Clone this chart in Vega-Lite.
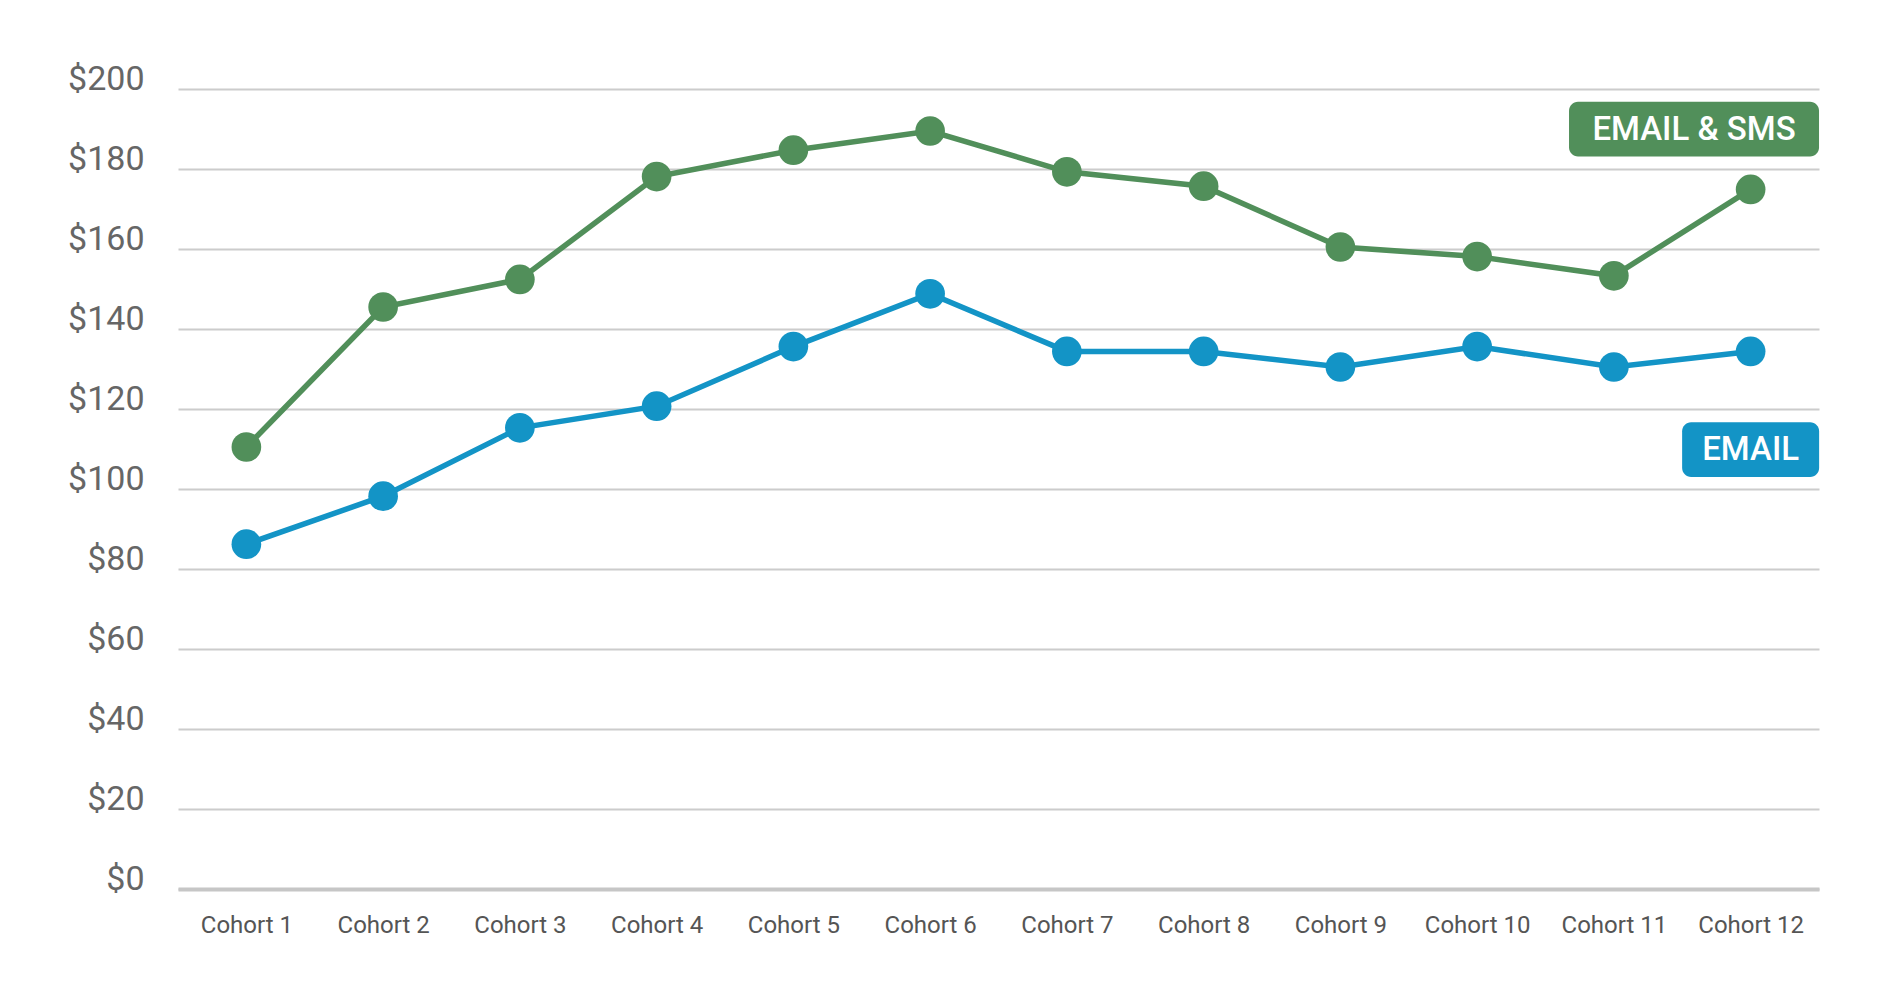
{
  "$schema": "https://vega.github.io/schema/vega-lite/v6.json",
  "autosize": {"type": "none"},
  "width": 1641,
  "height": 800,
  "padding": {"left": 178, "top": 89, "right": 59, "bottom": 108},
  "background": "white",
  "config": {
    "view": {"stroke": null},
    "font": "Roboto"
  },
  "datasets": {
    "ltv": [
      {"cohort": "Cohort 1", "series": "EMAIL & SMS", "value": 110.5},
      {"cohort": "Cohort 2", "series": "EMAIL & SMS", "value": 145.5},
      {"cohort": "Cohort 3", "series": "EMAIL & SMS", "value": 152.4},
      {"cohort": "Cohort 4", "series": "EMAIL & SMS", "value": 178.1},
      {"cohort": "Cohort 5", "series": "EMAIL & SMS", "value": 184.7},
      {"cohort": "Cohort 6", "series": "EMAIL & SMS", "value": 189.5},
      {"cohort": "Cohort 7", "series": "EMAIL & SMS", "value": 179.3},
      {"cohort": "Cohort 8", "series": "EMAIL & SMS", "value": 175.7},
      {"cohort": "Cohort 9", "series": "EMAIL & SMS", "value": 160.5},
      {"cohort": "Cohort 10", "series": "EMAIL & SMS", "value": 158.1},
      {"cohort": "Cohort 11", "series": "EMAIL & SMS", "value": 153.3},
      {"cohort": "Cohort 12", "series": "EMAIL & SMS", "value": 174.9},
      {"cohort": "Cohort 1", "series": "EMAIL", "value": 86.2},
      {"cohort": "Cohort 2", "series": "EMAIL", "value": 98.2},
      {"cohort": "Cohort 3", "series": "EMAIL", "value": 115.3},
      {"cohort": "Cohort 4", "series": "EMAIL", "value": 120.7},
      {"cohort": "Cohort 5", "series": "EMAIL", "value": 135.6},
      {"cohort": "Cohort 6", "series": "EMAIL", "value": 148.8},
      {"cohort": "Cohort 7", "series": "EMAIL", "value": 134.4},
      {"cohort": "Cohort 8", "series": "EMAIL", "value": 134.4},
      {"cohort": "Cohort 9", "series": "EMAIL", "value": 130.5},
      {"cohort": "Cohort 10", "series": "EMAIL", "value": 135.6},
      {"cohort": "Cohort 11", "series": "EMAIL", "value": 130.5},
      {"cohort": "Cohort 12", "series": "EMAIL", "value": 134.4}
    ],
    "tags": [
      {"cohort": "Cohort 12", "series": "EMAIL & SMS", "lo": 183.1, "hi": 196.8, "mid": 190},
      {"cohort": "Cohort 12", "series": "EMAIL", "lo": 103.0, "hi": 116.7, "mid": 109.9}
    ]
  },
  "encoding": {
    "x": {
      "field": "cohort",
      "type": "nominal",
      "sort": ["Cohort 1", "Cohort 2", "Cohort 3", "Cohort 4", "Cohort 5", "Cohort 6", "Cohort 7", "Cohort 8", "Cohort 9", "Cohort 10", "Cohort 11", "Cohort 12"],
      "scale": {"type": "point", "padding": 0.5},
      "title": null,
      "axis": {
        "labelAngle": 0,
        "labelFontSize": 24,
        "labelColor": "#555555",
        "labelPadding": 24,
        "ticks": false,
        "grid": false,
        "domainColor": "#c6c6c6",
        "domainWidth": 4
      }
    },
    "color": {
      "field": "series",
      "type": "nominal",
      "scale": {"domain": ["EMAIL & SMS", "EMAIL"], "range": ["#518f5a", "#1394c6"]},
      "legend": null
    }
  },
  "layer": [
    {
      "data": {"name": "ltv"},
      "mark": {"type": "line", "strokeWidth": 5.5},
      "encoding": {
        "y": {
          "field": "value",
          "type": "quantitative",
          "scale": {"domain": [0, 200]},
          "title": null,
          "axis": {
            "values": [0, 20, 40, 60, 80, 100, 120, 140, 160, 180, 200],
            "labelExpr": "'$' + datum.value",
            "labelFontSize": 34,
            "labelColor": "#666666",
            "labelPadding": 34,
            "labelBaseline": "alphabetic",
            "ticks": false,
            "domain": false,
            "gridColor": "#cccccc",
            "gridWidth": 2
          }
        },
        "detail": {"field": "series"}
      }
    },
    {
      "data": {"name": "ltv"},
      "mark": {"type": "point", "filled": true, "opacity": 1, "size": 880},
      "encoding": {
        "y": {"field": "value", "type": "quantitative"}
      }
    },
    {
      "data": {"name": "tags"},
      "transform": [{"filter": "datum.series == 'EMAIL & SMS'"}],
      "mark": {"type": "bar", "width": 250, "xOffset": -56.6, "cornerRadius": 9},
      "encoding": {
        "y": {"field": "lo", "type": "quantitative"},
        "y2": {"field": "hi"}
      }
    },
    {
      "data": {"name": "tags"},
      "transform": [{"filter": "datum.series == 'EMAIL'"}],
      "mark": {"type": "bar", "width": 137, "xOffset": 0, "cornerRadius": 9},
      "encoding": {
        "y": {"field": "lo", "type": "quantitative"},
        "y2": {"field": "hi"}
      }
    },
    {
      "data": {"name": "tags"},
      "transform": [{"filter": "datum.series == 'EMAIL & SMS'"}],
      "mark": {"type": "text", "xOffset": -56.6, "align": "center", "baseline": "middle", "fontSize": 33, "fontWeight": 500, "dy": 1},
      "encoding": {
        "y": {"field": "mid", "type": "quantitative"},
        "text": {"field": "series"},
        "color": {"value": "white"}
      }
    },
    {
      "data": {"name": "tags"},
      "transform": [{"filter": "datum.series == 'EMAIL'"}],
      "mark": {"type": "text", "align": "center", "baseline": "middle", "fontSize": 33, "fontWeight": 500, "dy": 1},
      "encoding": {
        "y": {"field": "mid", "type": "quantitative"},
        "text": {"field": "series"},
        "color": {"value": "white"}
      }
    }
  ]
}
